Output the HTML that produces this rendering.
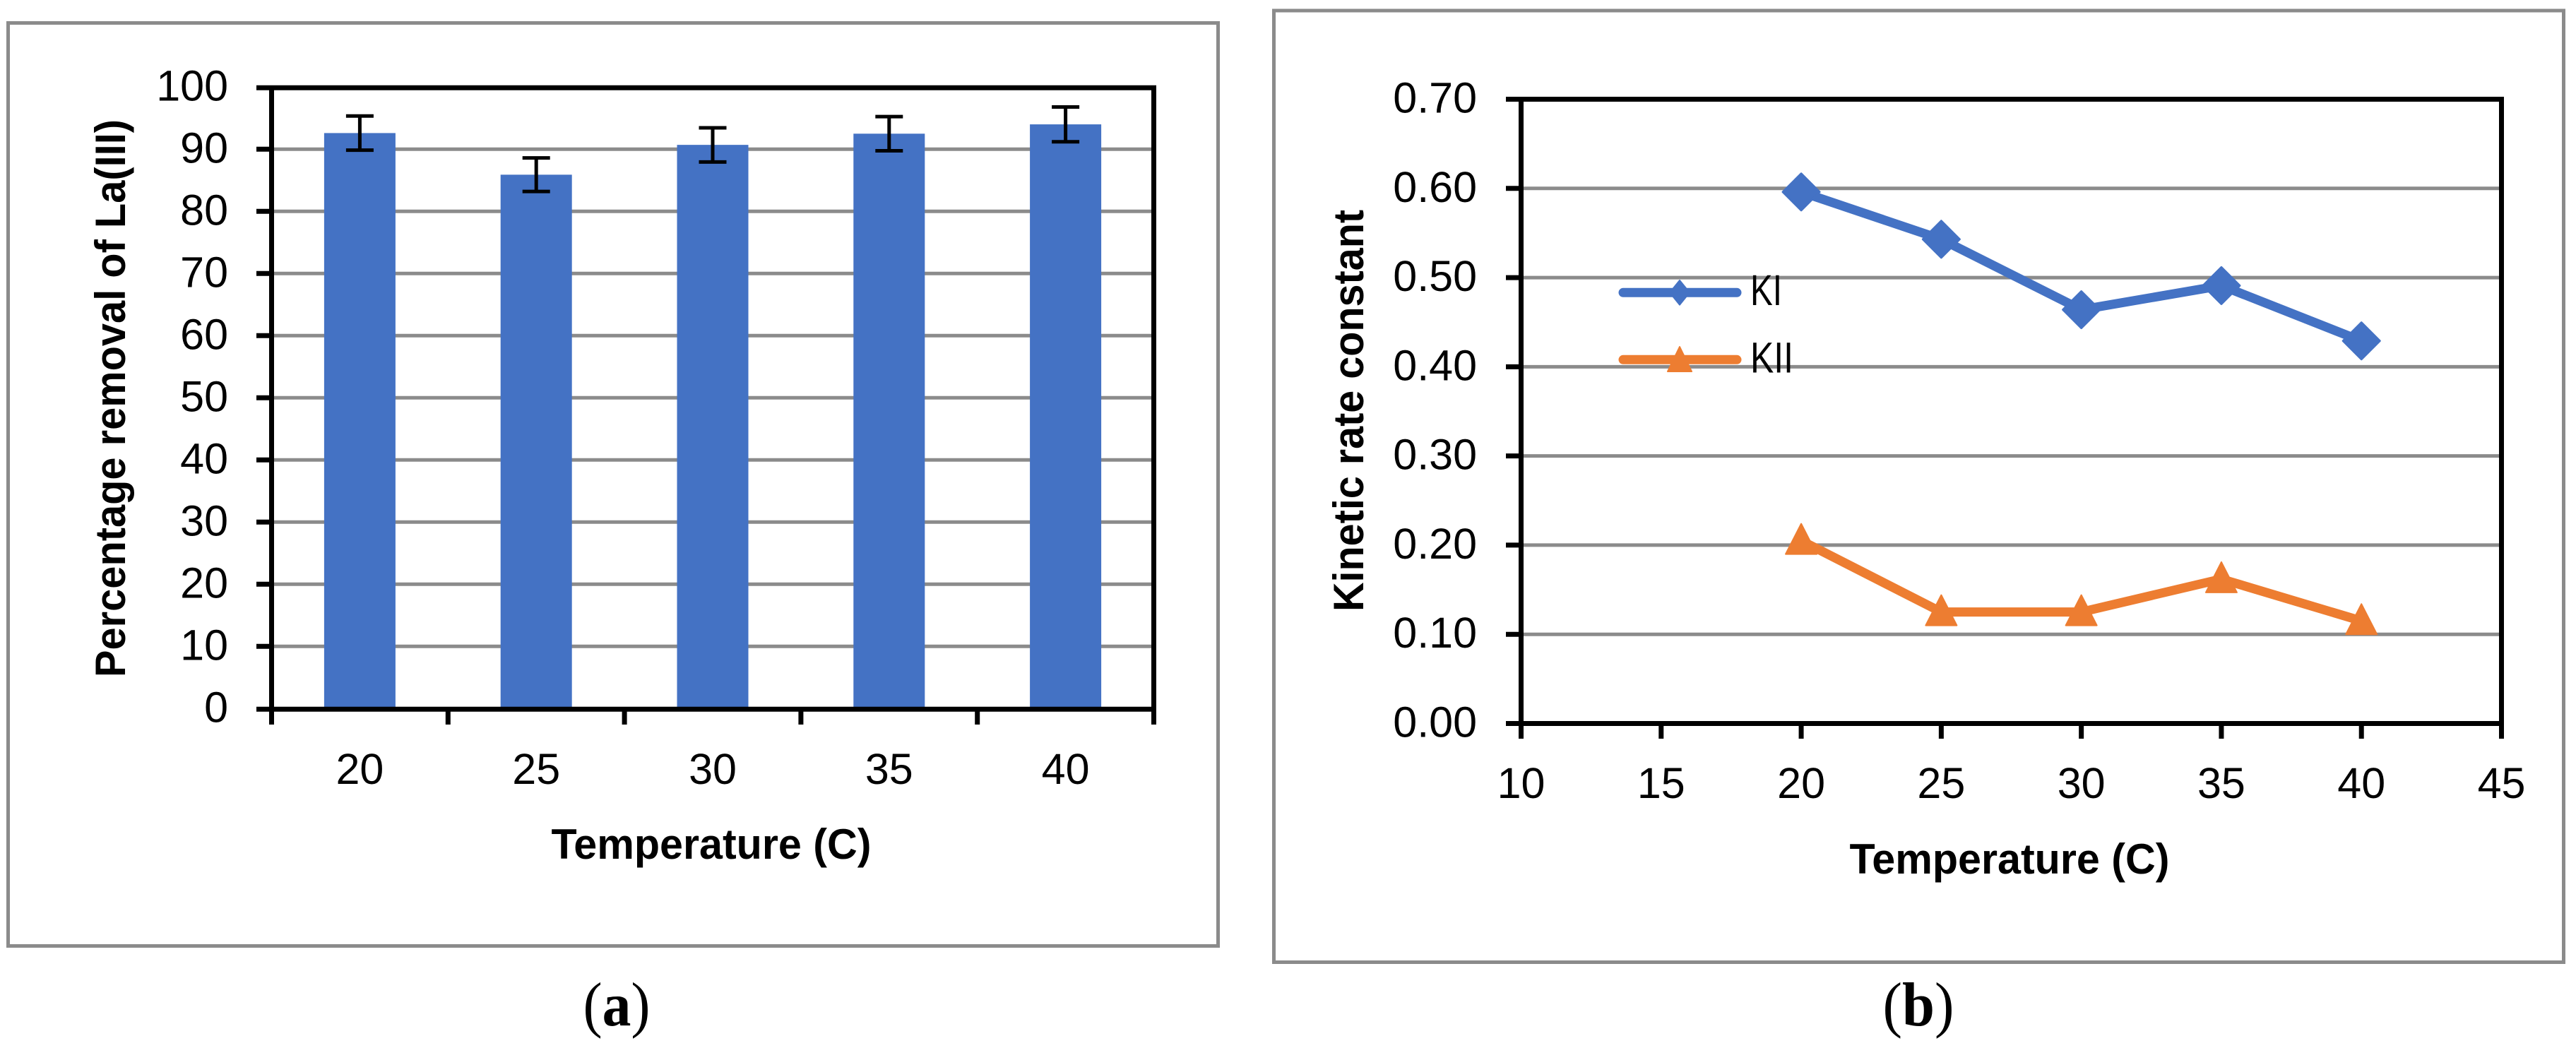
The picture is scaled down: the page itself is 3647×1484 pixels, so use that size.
<!DOCTYPE html>
<html lang="en">
<head>
<meta charset="utf-8">
<title>La(III) removal and kinetic rate constants versus temperature</title>
<style>
  html, body { margin: 0; padding: 0; background: #ffffff; }
  body { width: 3647px; height: 1484px; overflow: hidden; }
  svg { display: block; }
  text { fill: #000000; font-family: "Liberation Sans", sans-serif; }
  .tick { font-size: 61px; }
  .title { font-size: 60px; font-weight: 700; }
  .caption { font-family: "Liberation Serif", serif; font-size: 88px; }
  .caption tspan.bold { font-weight: 700; }
  .frame { fill: #ffffff; stroke: #8b8b8b; stroke-width: 5; }
</style>
</head>
<body>
<svg id="figure" xmlns="http://www.w3.org/2000/svg" width="3647" height="1484" viewBox="0 0 3647 1484">
  <rect x="0" y="0" width="3647" height="1484" fill="#ffffff"/>

  <g id="panel-a">
    <rect class="frame" x="11.5" y="32.5" width="1713" height="1307"/>
    <g id="a-grid"></g>
    <g id="a-bars"></g>
    <g id="a-axes"></g>
    <g id="a-errors"></g>
    <g id="a-labels"></g>
    <text class="title" text-anchor="middle" transform="translate(177 564) rotate(-90)" textLength="790" lengthAdjust="spacingAndGlyphs">Percentage removal of La(III)</text>
    <text class="title" x="1007" y="1216" text-anchor="middle" textLength="453" lengthAdjust="spacingAndGlyphs">Temperature (C)</text>
    <text class="caption" x="873" y="1452" text-anchor="middle" textLength="95" lengthAdjust="spacingAndGlyphs">(<tspan class="bold">a</tspan>)</text>
  </g>

  <g id="panel-b">
    <rect class="frame" x="1803.5" y="15" width="1826" height="1347.5"/>
    <g id="b-grid"></g>
    <g id="b-axes"></g>
    <g id="b-series"></g>
    <g id="b-labels"></g>
    <g id="b-legend">
      <g>
        <line x1="2298" y1="414.3" x2="2459" y2="414.3" stroke="#4472C4" stroke-width="13" stroke-linecap="round"/>
        <polygon points="2378,397 2392,414.3 2378,431.6 2364,414.3" fill="#4472C4" stroke="#4472C4" stroke-width="2" stroke-linejoin="round"/>
        <text class="tick" x="2478" y="432" textLength="45" lengthAdjust="spacingAndGlyphs">KI</text>
      </g>
      <g>
        <line x1="2298" y1="509.3" x2="2459" y2="509.3" stroke="#ED7D31" stroke-width="13" stroke-linecap="round"/>
        <polygon points="2378,491 2395,526 2361,526" fill="#ED7D31" stroke="#ED7D31" stroke-width="2" stroke-linejoin="round"/>
        <text class="tick" x="2478" y="527.3" textLength="61" lengthAdjust="spacingAndGlyphs">KII</text>
      </g>
    </g>
    <text class="title" text-anchor="middle" transform="translate(1930 581.5) rotate(-90)" textLength="569" lengthAdjust="spacingAndGlyphs">Kinetic rate constant</text>
    <text class="title" x="2845" y="1237" text-anchor="middle" textLength="453" lengthAdjust="spacingAndGlyphs">Temperature (C)</text>
    <text class="caption" x="2716" y="1452" text-anchor="middle" textLength="101" lengthAdjust="spacingAndGlyphs">(<tspan class="bold">b</tspan>)</text>
  </g>
</svg>

<script>
// Panel (a) data
const barCategories = [20, 25, 30, 35, 40];
const barValues = [92.6, 85.9, 90.7, 92.5, 94.0];
const barErrors = [2.75, 2.7, 2.75, 2.75, 2.8];
const barYTicks = [0, 10, 20, 30, 40, 50, 60, 70, 80, 90, 100];

// Panel (b) data
const lineTemperatures = [20, 25, 30, 35, 40];
const kiValues = [0.596, 0.543, 0.464, 0.491, 0.429];
const kiiValues = [0.205, 0.125, 0.125, 0.162, 0.115];
const lineXTicks = [10, 15, 20, 25, 30, 35, 40, 45];
const lineYTicks = [0, 0.1, 0.2, 0.3, 0.4, 0.5, 0.6, 0.7];

const SVG_NS = 'http://www.w3.org/2000/svg';
const BLUE = '#4472C4';
const ORANGE = '#ED7D31';
const GRID = '#8b8b8b';

function make(parent, tag) {
  const el = document.createElementNS(SVG_NS, tag);
  parent.appendChild(el);
  return el;
}
function setLine(el, x1, y1, x2, y2, color, width) {
  el.setAttribute('x1', x1);
  el.setAttribute('y1', y1);
  el.setAttribute('x2', x2);
  el.setAttribute('y2', y2);
  el.setAttribute('stroke', color);
  el.setAttribute('stroke-width', width);
}
function setText(el, x, y, anchor, content) {
  el.setAttribute('class', 'tick');
  el.setAttribute('x', x);
  el.setAttribute('y', y);
  el.setAttribute('text-anchor', anchor);
  el.textContent = content;
}

/* ---------- Panel (a) ---------- */
const aLeft = 384.5, aRight = 1633.5, aTop = 123.3, aBase = 1003.3;
const aMax = barYTicks[barYTicks.length - 1];
const aStep = (aRight - aLeft) / barCategories.length;
function aY(v) { return aBase - (v / aMax) * (aBase - aTop); }
function aEdge(i) { return aLeft + aStep * i; }
function aCenter(i) { return aLeft + aStep * (i + 0.5); }

const aGrid = document.getElementById('a-grid');
const aBars = document.getElementById('a-bars');
const aAxes = document.getElementById('a-axes');
const aErrors = document.getElementById('a-errors');
const aLabels = document.getElementById('a-labels');

barYTicks.forEach(function (t) {
  if (t > 0 && t < aMax) {
    const g = make(aGrid, 'line');
    
    
    setLine(g, aLeft, aY(t), aRight, aY(t), GRID, 5);
  }
  const tk = make(aAxes, 'line');
  
  
  const off = (t === 0 || t === aMax) ? 1 : 0;
  setLine(tk, 363, aY(t) + off, aLeft, aY(t) + off, '#000000', 7);
  const lb = make(aLabels, 'text');
  
  
  setText(lb, 323, aY(t) + 19, 'end', String(t));
});

barCategories.forEach(function (c, i) {
  const r = make(aBars, 'rect');
  
  
  r.setAttribute('x', aCenter(i) - 50.5);
  r.setAttribute('y', aY(barValues[i]));
  r.setAttribute('width', 101);
  r.setAttribute('height', aBase - aY(barValues[i]));
  r.setAttribute('fill', BLUE);

  const hi = aY(barValues[i] + barErrors[i]);
  const lo = aY(barValues[i] - barErrors[i]);
  const stem = make(aErrors, 'line');
  
  
  setLine(stem, aCenter(i), hi, aCenter(i), lo, '#000000', 5);
  const capTop = make(aErrors, 'line');
  
  
  setLine(capTop, aCenter(i) - 19.5, hi, aCenter(i) + 19.5, hi, '#000000', 5);
  const capBottom = make(aErrors, 'line');
  
  
  setLine(capBottom, aCenter(i) - 19.5, lo, aCenter(i) + 19.5, lo, '#000000', 5);

  const lb = make(aLabels, 'text');
  
  
  setText(lb, aCenter(i), 1110, 'middle', String(c));
});

for (let i = 0; i <= barCategories.length; i++) {
  const tk = make(aAxes, 'line');
  
  
  setLine(tk, aEdge(i), aBase, aEdge(i), 1026, '#000000', 7);
}
const aYAxis = make(aAxes, 'line');


setLine(aYAxis, aLeft, aTop, aLeft, aBase, '#000000', 7);
const aRightAxis = make(aAxes, 'line');


setLine(aRightAxis, aRight, aTop, aRight, aBase, '#000000', 7);
const aTopAxis = make(aAxes, 'line');


setLine(aTopAxis, aLeft, aTop + 1, aRight + 3.5, aTop + 1, '#000000', 7);
const aXAxis = make(aAxes, 'line');


setLine(aXAxis, aLeft, aBase + 1, aRight + 3.5, aBase + 1, '#000000', 7);

/* ---------- Panel (b) ---------- */
const bLeft = 2153.5, bRight = 3541.5, bTop = 140.5, bBase = 1024.5;
const bXMin = lineXTicks[0], bXMax = lineXTicks[lineXTicks.length - 1];
const bYMax = lineYTicks[lineYTicks.length - 1];
function bX(t) { return bLeft + ((t - bXMin) / (bXMax - bXMin)) * (bRight - bLeft); }
function bY(v) { return bBase - (v / bYMax) * (bBase - bTop); }

const bGrid = document.getElementById('b-grid');
const bAxes = document.getElementById('b-axes');
const bSeries = document.getElementById('b-series');
const bLabels = document.getElementById('b-labels');

lineYTicks.forEach(function (t, i) {
  if (i > 0 && i < lineYTicks.length - 1) {
    const g = make(bGrid, 'line');
    
    
    setLine(g, bLeft, bY(t), bRight, bY(t), GRID, 5);
  }
  const tk = make(bAxes, 'line');
  
  
  setLine(tk, 2132, bY(t), bLeft, bY(t), '#000000', 7);
  const lb = make(bLabels, 'text');
  
  
  setText(lb, 2091, bY(t) + 19, 'end', t.toFixed(2));
});

lineXTicks.forEach(function (t) {
  const tk = make(bAxes, 'line');
  
  
  setLine(tk, bX(t), bBase, bX(t), 1046, '#000000', 7);
  const lb = make(bLabels, 'text');
  
  
  setText(lb, bX(t), 1130, 'middle', String(t));
});

const bYAxis = make(bAxes, 'line');


setLine(bYAxis, bLeft, bTop, bLeft, bBase, '#000000', 7);
const bRightAxis = make(bAxes, 'line');


setLine(bRightAxis, bRight, bTop, bRight, bBase, '#000000', 7);
const bTopAxis = make(bAxes, 'line');


setLine(bTopAxis, bLeft, bTop, bRight + 3.5, bTop, '#000000', 7);
const bXAxis = make(bAxes, 'line');


setLine(bXAxis, bLeft, bBase, bRight + 3.5, bBase, '#000000', 7);

function pointString(values) {
  return values.map(function (v, i) { return bX(lineTemperatures[i]) + ',' + bY(v); }).join(' ');
}

const kiLine = make(bSeries, 'polyline');


kiLine.setAttribute('points', pointString(kiValues));
kiLine.setAttribute('fill', 'none');
kiLine.setAttribute('stroke', BLUE);
kiLine.setAttribute('stroke-width', 13);
kiLine.setAttribute('stroke-linejoin', 'round');

const kiiLine = make(bSeries, 'polyline');


kiiLine.setAttribute('points', pointString(kiiValues));
kiiLine.setAttribute('fill', 'none');
kiiLine.setAttribute('stroke', ORANGE);
kiiLine.setAttribute('stroke-width', 13);
kiiLine.setAttribute('stroke-linejoin', 'round');

kiValues.forEach(function (v, i) {
  const cx = bX(lineTemperatures[i]);
  const cy = bY(v);
  const m = make(bSeries, 'polygon');
  
  
  m.setAttribute('points', [cx + ',' + (cy - 26), (cx + 26) + ',' + cy, cx + ',' + (cy + 26), (cx - 26) + ',' + cy].join(' '));
  m.setAttribute('fill', BLUE);
  m.setAttribute('stroke', BLUE);
  m.setAttribute('stroke-width', 3);
  m.setAttribute('stroke-linejoin', 'round');
});

kiiValues.forEach(function (v, i) {
  const cx = bX(lineTemperatures[i]);
  const cy = bY(v);
  const m = make(bSeries, 'polygon');
  
  
  m.setAttribute('points', [cx + ',' + (cy - 24), (cx + 22) + ',' + (cy + 19), (cx - 22) + ',' + (cy + 19)].join(' '));
  m.setAttribute('fill', ORANGE);
  m.setAttribute('stroke', ORANGE);
  m.setAttribute('stroke-width', 2);
  m.setAttribute('stroke-linejoin', 'round');
});
</script>
</body>
</html>
